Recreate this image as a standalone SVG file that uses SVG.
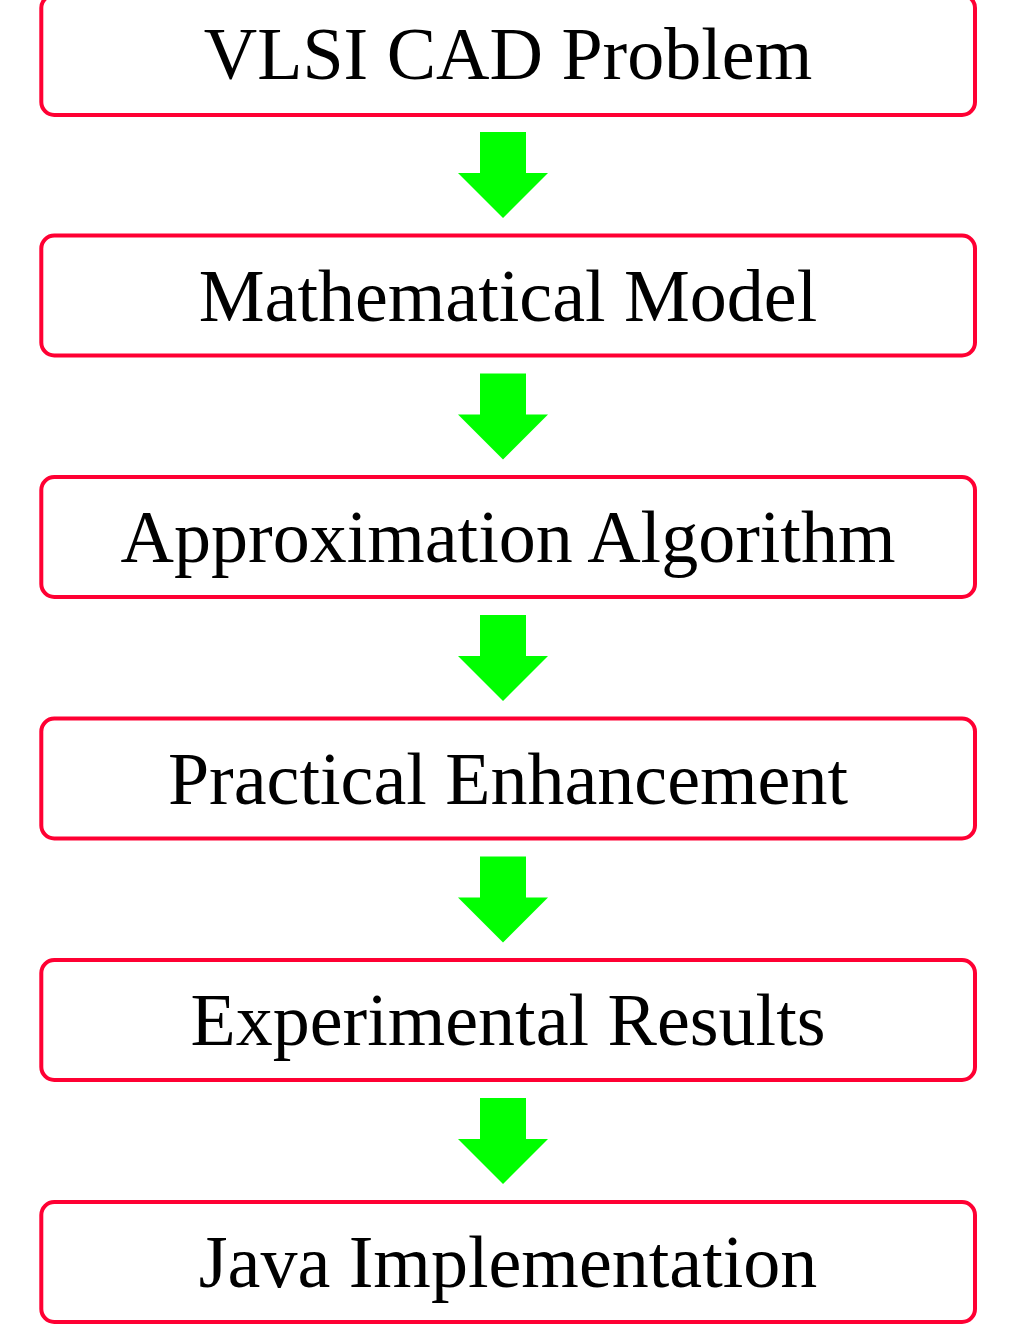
<svg xmlns="http://www.w3.org/2000/svg" width="1015" height="1326" viewBox="0 0 1015 1326">
<style>
.box{fill:#fff;stroke:#ff0033;stroke-width:4}
.lbl{font-family:"Liberation Serif","Times New Roman",serif;font-size:74px;fill:#000;text-anchor:middle}
.arr{fill:#00ff00}
</style>
<rect width="1015" height="1326" fill="#fff"/>
<g id="connectors">
<polygon class="arr" points="480,132 526,132 526,173 548,173 503,218 458,173 480,173"/>
<polygon class="arr" points="480,373.5 526,373.5 526,414.5 548,414.5 503,459.5 458,414.5 480,414.5"/>
<polygon class="arr" points="480,615 526,615 526,656 548,656 503,701 458,656 480,656"/>
<polygon class="arr" points="480,856.5 526,856.5 526,897.5 548,897.5 503,942.5 458,897.5 480,897.5"/>
<polygon class="arr" points="480,1098 526,1098 526,1139 548,1139 503,1184 458,1139 480,1139"/>
</g>
<g id="n1"><rect class="box" x="41.3" y="-5" width="933.7" height="120" rx="13"/><text class="lbl" x="508" y="79">VLSI CAD Problem</text></g>
<g id="n2"><rect class="box" x="41.3" y="235.5" width="933.7" height="120" rx="13"/><text class="lbl" x="508" y="320.7">Mathematical Model</text></g>
<g id="n3"><rect class="box" x="41.3" y="477" width="933.7" height="120" rx="13"/><text class="lbl" x="508" y="562">Approximation Algorithm</text></g>
<g id="n4"><rect class="box" x="41.3" y="718.5" width="933.7" height="120" rx="13"/><text class="lbl" x="508" y="803.5">Practical Enhancement</text></g>
<g id="n5"><rect class="box" x="41.3" y="960" width="933.7" height="120" rx="13"/><text class="lbl" x="508" y="1045">Experimental Results</text></g>
<g id="n6"><rect class="box" x="41.3" y="1202" width="933.7" height="120" rx="13"/><text class="lbl" x="508" y="1287">Java Implementation</text></g>
</svg>
